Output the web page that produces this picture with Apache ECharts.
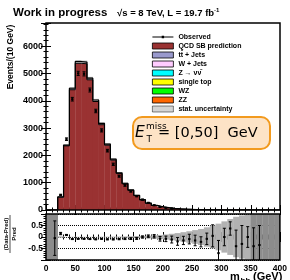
<!DOCTYPE html>
<html>
<head>
<meta charset="utf-8">
<script src="https://cdn.jsdelivr.net/npm/echarts@6/dist/echarts.min.js"></script>
<style>
  html, body { margin: 0; padding: 0; background: #fff; }
  #chart { width: 290px; height: 280px; }
</style>
</head>
<body>
<div id="chart"></div>
<script>
// 10 GeV bins, left edges
const binEdges = [0, 10, 20, 30, 40, 50, 60, 70, 80, 90,
  100, 110, 120, 130, 140, 150, 160, 170, 180, 190,
  200, 210, 220, 230, 240, 250, 260, 270, 280, 290,
  300, 310, 320, 330, 340, 350, 360, 370, 380, 390];

// stacked prediction (events / 10 GeV)
const qcdSB = [0, 3, 470, 2350, 4405, 5375, 5355, 4770, 3975, 3125,
  2375, 1828, 1334, 960, 719, 528, 370, 247, 164, 115,
  81, 57, 42.5, 31, 23.4, 17.7, 13, 10.2, 7.4, 5.5,
  4.6, 3.7, 2.75, 2.3, 1.85, 1.38, 1.1, 0.92, 0.74, 0.55];
const ttJets = [0, 0, 10, 30, 55, 65, 65, 60, 55, 45,
  40, 32, 26, 20, 16, 12, 10, 8, 6, 5,
  4, 3, 2.5, 2, 1.6, 1.3, 1, 0.8, 0.6, 0.5,
  0.4, 0.3, 0.25, 0.2, 0.15, 0.12, 0.1, 0.08, 0.06, 0.05];

// (Data-Pred)/Pred and its error
const ratio = [null, -0.05, 0.15, 0.09, -0.09, -0.08, -0.08, -0.09, -0.1, -0.08,
  -0.1, -0.1, -0.09, -0.08, -0.07, -0.06, 0.0, 0.03, 0.03, -0.08,
  -0.08, -0.11, -0.19, -0.15, -0.09, -0.15, -0.21, -0.08, 0.05, -0.7,
  0.0, 0.37, -0.4, -0.3, 0.0, -0.4, -0.35, null, null, null];
const ratioErr = [0, 0.75, 0.05, 0.02, 0.015, 0.014, 0.014, 0.015, 0.016, 0.018,
  0.02, 0.023, 0.027, 0.032, 0.037, 0.043, 0.05, 0.06, 0.075, 0.1,
  0.12, 0.15, 0.17, 0.18, 0.21, 0.23, 0.22, 0.25, 0.48, 0.55,
  0.38, 0.29, 0.7, 0.8, 0.45, 0.8, 0.85, 0, 0, 0];

// relative stat. uncertainty of the prediction
const statUnc = [1, 1, 0.03, 0.01, 0.01, 0.01, 0.01, 0.01, 0.01, 0.012,
  0.015, 0.018, 0.02, 0.025, 0.03, 0.035, 0.045, 0.055, 0.07, 0.09,
  0.11, 0.14, 0.17, 0.21, 0.25, 0.3, 0.35, 0.42, 0.5, 0.58,
  0.68, 0.78, 0.88, 0.94, 0.97, 1, 1, 1, 1, 1];

const xTicks = [0, 50, 100, 150, 200, 250, 300, 350, 400];
const yTicks = [0, 1000, 2000, 3000, 4000, 5000, 6000];
const ratioTicks = [-0.5, 0, 0.5];

const binW = 10;
const total = qcdSB.map((v, i) => v + ttJets[i]);

const FONT = 'Liberation Sans, Arial, sans-serif';
const colors = {
  qcd: '#9a3232', tt: '#9999cc', w: '#ffccff', z: '#00ffff',
  top: '#ffff00', wz: '#00ff00', zz: '#ff6600', stat: '#b8b8b8'
};

function rectRender(params, api) {
  const p0 = api.coord([api.value(0), api.value(2)]);
  const p1 = api.coord([api.value(1), api.value(3)]);
  return {
    type: 'rect',
    shape: { x: p0[0], y: Math.min(p0[1], p1[1]), width: p1[0] - p0[0] + 0.3, height: Math.abs(p0[1] - p1[1]) },
    style: { fill: api.visual('color') }
  };
}

// ratio band: full-height bins drawn darker, like the reference
function bandRender(params, api) {
  const el = rectRender(params, api);
  el.style.fill = api.value(3) >= 1 ? '#8c8c8c' : '#b2b2b2';
  return el;
}

function errRender(lo, hi) {
  return function (params, api) {
    const x = api.value(0), y = api.value(1), e = api.value(2);
    const top = Math.min(y + e, hi), bot = Math.max(y - e, lo);
    const c = api.coord([x, y]);
    const t = api.coord([x, top]);
    const b = api.coord([x, bot]);
    const children = [
      { type: 'line', shape: { x1: c[0], y1: t[1], x2: c[0], y2: b[1] }, style: { stroke: '#000', lineWidth: 1 } }
    ];
    if (y + e <= hi) children.push({ type: 'line', shape: { x1: c[0] - 1.5, y1: t[1], x2: c[0] + 1.5, y2: t[1] }, style: { stroke: '#000', lineWidth: 1 } });
    if (y - e >= lo) children.push({ type: 'line', shape: { x1: c[0] - 1.5, y1: b[1], x2: c[0] + 1.5, y2: b[1] }, style: { stroke: '#000', lineWidth: 1 } });
    if (y >= lo && y <= hi) children.push({ type: 'rect', shape: { x: c[0] - 1.2, y: c[1] - 1, width: 2.4, height: 2 }, style: { fill: '#000' } });
    return { type: 'group', children: children };
  };
}

const stackQcd = binEdges.map((x, i) => [x, x + binW, 0, qcdSB[i]]);
const stackTt = binEdges.map((x, i) => [x, x + binW, qcdSB[i], total[i]]);
const statMain = binEdges.map((x, i) => [x, x + binW, total[i] * (1 - statUnc[i]), total[i] * (1 + statUnc[i])])
  .filter((d, i) => total[i] > 50);
const outlineQcd = binEdges.map((x, i) => [x, qcdSB[i]]).concat([[400, qcdSB[39]]]);
const outlineTot = binEdges.map((x, i) => [x, total[i]]).concat([[400, total[39]]]);
const observedErr = [];
const ratioPts = [];
const ratioBand = [];
binEdges.forEach((x, i) => {
  const c = x + binW / 2;
  if (ratio[i] !== null) {
    const obs = total[i] * (1 + ratio[i]);
    if (total[i] > 50) observedErr.push([c, obs, total[i] * ratioErr[i]]);
    ratioPts.push([c, ratio[i], ratioErr[i]]);
  }
  ratioBand.push([x, x + binW, -statUnc[i], statUnc[i]]);
});

const tickCommon = {
  axisTick: { show: true, inside: true, length: 5, lineStyle: { color: '#000', width: 1 } },
  minorTick: { show: true, splitNumber: 5, length: 2.5, lineStyle: { color: '#000', width: 1 } },
  axisLine: { show: false },
  splitLine: { show: false }
};
const labelStyle = { color: '#000', fontFamily: FONT, fontWeight: 'bold' };

// line with a marker in the middle, box is 21 x 6 like the legend item
const observedIcon = 'path://M0,0h0.01v0.01h-0.01z M0,2.5H21V3.5H0Z M9.3,1.8H11.7V4.2H9.3Z M20.99,5.99h0.01v0.01h-0.01z';

const option = {
  animation: false,
  backgroundColor: '#fff',
  grid: [
    { left: 46, top: 23, width: 234, height: 187, show: true, borderColor: '#000', borderWidth: 1.5, backgroundColor: 'transparent', z: 10 },
    { left: 46, top: 214, width: 234, height: 46, show: true, borderColor: '#000', borderWidth: 1.5, backgroundColor: 'transparent', z: 10 }
  ],
  xAxis: [
    Object.assign({ type: 'value', gridIndex: 0, min: 0, max: 400, interval: 50, axisLabel: { show: false } }, tickCommon),
    Object.assign({ type: 'value', gridIndex: 0, position: 'top', min: 0, max: 400, interval: 50, axisLabel: { show: false } }, tickCommon),
    Object.assign({ type: 'value', gridIndex: 1, min: 0, max: 400, interval: 50,
      axisLabel: Object.assign({ fontSize: 8.5, margin: 4, formatter: v => xTicks.includes(v) ? String(v) : '' }, labelStyle) }, tickCommon),
    Object.assign({ type: 'value', gridIndex: 1, position: 'top', min: 0, max: 400, interval: 50, axisLabel: { show: false } }, tickCommon)
  ],
  yAxis: [
    Object.assign({ type: 'value', gridIndex: 0, min: 0, max: 6850, interval: 1000,
      axisLabel: Object.assign({ fontSize: 9, margin: 3, formatter: v => yTicks.includes(v) ? String(v) : '' }, labelStyle) }, tickCommon),
    Object.assign({ type: 'value', gridIndex: 0, position: 'right', min: 0, max: 6850, interval: 1000, axisLabel: { show: false } }, tickCommon),
    Object.assign({}, tickCommon, { type: 'value', gridIndex: 1, min: -1, max: 1, interval: 0.5,
      axisLabel: Object.assign({ fontSize: 8.5, margin: 3, formatter: v => ratioTicks.includes(v) ? String(v) : '' }, labelStyle),
      splitLine: { show: true, lineStyle: { color: '#000', type: 'dotted', width: 1 } } }),
    Object.assign({ type: 'value', gridIndex: 1, position: 'right', min: -1, max: 1, interval: 0.5, axisLabel: { show: false } }, tickCommon)
  ],
  legend: {
    orient: 'vertical', left: 152, top: 33, padding: 0,
    itemWidth: 21, itemHeight: 6, itemGap: 1, icon: 'rect',
    selectedMode: false,
    itemStyle: { borderColor: '#000', borderWidth: 0.8 },
    textStyle: { fontSize: 7, lineHeight: 8, fontFamily: FONT, fontWeight: 'bold', color: '#000' },
    data: [
      { name: 'Observed', icon: observedIcon, itemStyle: { borderWidth: 0, color: '#000' } },
      'QCD SB prediction', 't\u0074\u0304 + Jets', 'W + Jets', 'Z \u2192 \u03bd\u03bd\u0304',
      'single top', 'WZ', 'ZZ', 'stat. uncertainty'
    ]
  },
  series: [
    { name: 'QCD SB prediction', type: 'custom', xAxisIndex: 0, yAxisIndex: 0, renderItem: rectRender,
      itemStyle: { color: colors.qcd }, encode: { x: [0, 1], y: [2, 3] }, data: stackQcd },
    { name: 't\u0074\u0304 + Jets', type: 'custom', xAxisIndex: 0, yAxisIndex: 0, renderItem: rectRender,
      itemStyle: { color: colors.tt }, encode: { x: [0, 1], y: [2, 3] }, data: stackTt },
    { name: 'W + Jets', type: 'custom', renderItem: rectRender, itemStyle: { color: colors.w }, data: [] },
    { name: 'Z \u2192 \u03bd\u03bd\u0304', type: 'custom', renderItem: rectRender, itemStyle: { color: colors.z }, data: [] },
    { name: 'single top', type: 'custom', renderItem: rectRender, itemStyle: { color: colors.top }, data: [] },
    { name: 'WZ', type: 'custom', renderItem: rectRender, itemStyle: { color: colors.wz }, data: [] },
    { name: 'ZZ', type: 'custom', renderItem: rectRender, itemStyle: { color: colors.zz }, data: [] },
    { name: 'stat. uncertainty', type: 'custom', xAxisIndex: 0, yAxisIndex: 0, renderItem: rectRender,
      itemStyle: { color: colors.stat, opacity: 0.6 }, encode: { x: [0, 1], y: [2, 3] }, data: statMain },
    { name: 'qcdOutline', type: 'line', xAxisIndex: 0, yAxisIndex: 0, step: 'end', showSymbol: false,
      lineStyle: { color: '#000', width: 1 }, data: outlineQcd, z: 3 },
    { name: 'totOutline', type: 'line', xAxisIndex: 0, yAxisIndex: 0, step: 'end', showSymbol: false,
      lineStyle: { color: '#000', width: 1.2 }, data: outlineTot, z: 3 },
    { name: 'Observed', type: 'custom', xAxisIndex: 0, yAxisIndex: 0, renderItem: errRender(0, 6850),
      itemStyle: { color: '#000' }, encode: { x: 0, y: 1 }, data: observedErr, z: 5 },
    { name: 'ratioBand', type: 'custom', xAxisIndex: 2, yAxisIndex: 2, renderItem: bandRender,
      encode: { x: [0, 1], y: [2, 3] }, data: ratioBand, clip: true },
    { name: 'ratioPts', type: 'custom', xAxisIndex: 2, yAxisIndex: 2, renderItem: errRender(-1, 1),
      encode: { x: 0, y: 1 }, data: ratioPts, clip: true, z: 5 }
  ],
  graphic: [
    { type: 'text', x: 13, y: 12.5, style: { text: 'Work in progress', font: 'bold 11.5px ' + FONT, fill: '#000', verticalAlign: 'middle' } },
    { type: 'text', x: 117, y: 13.5, style: { text: '\u221as = 8 TeV, L = 19.7 fb', font: 'bold 9.5px ' + FONT, fill: '#000', verticalAlign: 'middle' } },
    { type: 'text', x: 214, y: 10, style: { text: '-1', font: 'bold 6px ' + FONT, fill: '#000', verticalAlign: 'middle' } },
    { type: 'text', x: 11, y: 57, rotation: Math.PI / 2, style: { text: 'Events/(10 GeV)', font: 'bold 8.5px ' + FONT, fill: '#000', align: 'center', verticalAlign: 'middle' } },
    { type: 'group', x: 10, y: 234, rotation: Math.PI / 2, children: [
      { type: 'text', x: 0, y: -4, style: { text: '(Data-Pred)', font: 'bold 6px ' + FONT, fill: '#000', align: 'center', verticalAlign: 'middle' } },
      { type: 'line', shape: { x1: -19, y1: 0, x2: 19, y2: 0 }, style: { stroke: '#000', lineWidth: 0.7 } },
      { type: 'text', x: 0, y: 4, style: { text: 'Pred', font: 'bold 6px ' + FONT, fill: '#000', align: 'center', verticalAlign: 'middle' } }
    ] },
    { type: 'text', x: 230, y: 277, style: { text: 'm', font: 'bold 11px ' + FONT, fill: '#000', verticalAlign: 'middle' } },
    { type: 'text', x: 240.5, y: 281, style: { text: 'bb', font: 'bold 8px ' + FONT, fill: '#000', verticalAlign: 'middle' } },
    { type: 'text', x: 253, y: 277, style: { text: '(GeV)', font: 'bold 11px ' + FONT, fill: '#000', verticalAlign: 'middle' } },
    { type: 'group', z: 100, children: [
      { type: 'rect', shape: { x: 133, y: 117, width: 137, height: 32, r: 9 }, style: { fill: '#fde3c6', stroke: '#f29a1e', lineWidth: 2 } },
      { type: 'text', x: 135, y: 133, style: { text: 'E', font: 'italic 15.5px DejaVu Sans', fill: '#000', verticalAlign: 'middle' } },
      { type: 'text', x: 146, y: 127, style: { text: 'miss', font: '9px DejaVu Sans', fill: '#000', verticalAlign: 'middle' } },
      { type: 'text', x: 146.5, y: 139.5, style: { text: 'T', font: '9px DejaVu Sans', fill: '#000', verticalAlign: 'middle' } },
      { type: 'text', x: 158, y: 133, style: { text: '= [0,50]  GeV', font: '14.5px DejaVu Sans', fill: '#000', verticalAlign: 'middle' } }
    ] }
  ]
};

const chart = echarts.init(document.getElementById('chart'));
chart.setOption(option);
</script>
</body>
</html>
